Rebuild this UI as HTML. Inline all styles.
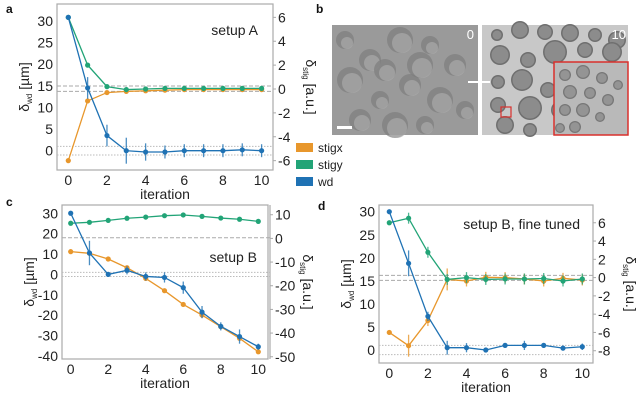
<!DOCTYPE html>
<html><head><meta charset="utf-8"><style>
body{margin:0;background:#fff;}
svg{display:block;font-family:"Liberation Sans",sans-serif;}
</style></head><body>
<svg id="fig" width="640" height="407" viewBox="0 0 640 407" xmlns="http://www.w3.org/2000/svg">
<g id="imgs"></g>
</svg>
<script>
// ---------- data ----------
const iterations=[0,1,2,3,4,5,6,7,8,9,10];
// panel a
const aWd=[30.8,14.5,3.5,0,-0.3,-0.3,0,0,0,0.2,0];
const aWdErr=[0,2.5,2.5,3,2,1.5,1.5,1.5,1.5,1.5,1.5];
const aStigx=[-6,-1,-0.3,-0.2,-0.15,-0.1,-0.05,-0.05,-0.05,-0.05,-0.05];
const aStigy=[6,2,0.2,-0.05,0,0.05,0.05,0.05,0.05,0.05,0.05];
// panel c
const cWd=[30,10.5,0,2,-1,-1.5,-6.5,-18.5,-25.5,-30.5,-35.5];
const cWdErr=[0,6,0,2,2,2.5,3,3,2,3.5,1.5];
const cStigx=[-5.6,-6.3,-8.7,-12.4,-16.9,-22.1,-27.9,-32.4,-37.3,-42.2,-47.9];
const cStigy=[6.4,6.8,7.6,8.5,9,9.6,9.9,9.3,8.6,8.1,7.2];
// panel d
const dWd=[30,18.8,7.3,0.5,0.5,0,1,1,1,0.4,0.7];
const dWdErr=[0,2.8,1,1.5,1,0.5,0.5,1,0.5,0.5,0.7];
const dStigx=[-6,-7.45,-4.7,-0.2,-0.37,0.03,0,-0.15,-0.37,-0.08,-0.26];
const dStigxErr=[0,1.2,0.6,1.2,0.6,0.6,0.6,0.6,0.6,0.6,0.6];
const dStigy=[6,6.5,2.77,-0.2,0,-0.2,-0.15,-0.15,-0.1,-0.37,-0.15];
const dStigyErr=[0,0.6,0.6,0.6,0.6,0.6,0.6,0.6,0.6,0.6,0.6];
const xTicks=[0,2,4,6,8,10];
const aLeftTicks=[0,5,10,15,20,25,30], aRightTicks=[-6,-4,-2,0,2,4,6];
const cLeftTicks=[-40,-30,-20,-10,0,10,20,30], cRightTicks=[-50,-40,-30,-20,-10,0,10];
const dLeftTicks=[0,5,10,15,20,25,30], dRightTicks=[-8,-6,-4,-2,0,2,4,6];

const OR='#e8972c',GR='#22a477',BL='#1f72b4';
const svg=document.getElementById('fig');
const NS='http://www.w3.org/2000/svg';
function el(tag,attrs,parent){const e=document.createElementNS(NS,tag);for(const k in attrs)e.setAttribute(k,attrs[k]);(parent||svg).appendChild(e);return e;}
function txt(s,attrs,parent){const e=el('text',attrs,parent);e.textContent=s;return e;}

function panel(id,g,L,R,series,lines,label){
  const grp=el('g',{});
  
  
  const X=v=>g.x0+v*g.xs, YL=v=>g.l0-v*g.ls, YR=v=>g.r0-v*g.rs;
  const fr=el('rect',{x:g.x1,y:g.y1,width:g.x2-g.x1,height:g.y2-g.y1,fill:'none',stroke:'#aaa','stroke-width':1.2},grp);
  
  
  if(g.rx){const ra=el('line',{x1:g.rx,x2:g.rx,y1:g.y1,y2:g.y2,stroke:'#aaa','stroke-width':1.2},grp);
    
    }
  const rx=g.rx||g.x2;
  lines.forEach(l=>{const y=l.axis==='L'?YL(l.v):YR(l.v);
    const ln=el('line',{x1:g.x1,x2:rx,y1:y,y2:y,stroke:l.dash?'#aaa':'#bbb','stroke-width':1,'stroke-dasharray':l.dash?'4,2':'1.5,1.5'},grp);
    
    });
  xTicks.forEach(t=>{const e=txt(String(t),{x:X(t),y:g.y2+15,'font-size':14,'text-anchor':'middle',fill:'#222'},grp);
    
    });
  L.forEach(t=>{const e=txt(String(t),{x:g.x1-4,y:YL(t)+5,'font-size':14,'text-anchor':'end',fill:'#222'},grp);
    
    });
  R.forEach(t=>{el('line',{x1:rx,x2:rx+3,y1:YR(t),y2:YR(t),stroke:'#aaa'},grp);
    const e=txt(String(t),{x:rx+5,y:YR(t)+5,'font-size':14,fill:'#222'},grp);
    
    });
  const xt=txt('iteration',{x:(g.x1+g.x2)/2,y:g.y2+29,'font-size':14,'text-anchor':'middle',fill:'#222'},grp);
  
  
  const yl=txt('',{transform:`translate(${g.x1-28},${(g.y1+g.y2)/2}) rotate(-90)`,'font-size':14,'text-anchor':'middle',fill:'#222'},grp);
  yl.innerHTML='δ<tspan font-size="8" dy="3">wd</tspan><tspan dy="-3"> [µm]</tspan>';
  
  
  const yr=txt('',{transform:`translate(${rx+33},${(g.y1+g.y2)/2}) rotate(90)`,'font-size':14,'text-anchor':'middle',fill:'#222'},grp);
  yr.innerHTML='δ<tspan font-size="8" dy="3">stig</tspan><tspan dy="-3"> [a.u.]</tspan>';
  
  
  series.forEach(s=>{const Y=s.axis==='L'?YL:YR;
    const sg=el('g',{},grp);
    
    
    el('polyline',{points:s.v.map((v,i)=>X(iterations[i])+','+Y(v)).join(' '),fill:'none',stroke:s.c,'stroke-width':1.3},sg);
    s.v.forEach((v,i)=>{const e=s.e?s.e[i]:0;
      if(e>0){const eb=el('line',{x1:X(iterations[i]),x2:X(iterations[i]),y1:Y(v-e),y2:Y(v+e),stroke:s.c,'stroke-width':1.3,opacity:0.8},sg);
        
        }
      const p=el('circle',{cx:X(iterations[i]),cy:Y(v),r:2.6,fill:s.c},sg);
      
      });
  });
  const lb=txt(label.t,{x:label.x,y:label.y,'font-size':14,fill:'#222','text-anchor':'end'},grp);
  
  
}

panel('panel-a',{x1:57,x2:273,y1:4,y2:170,x0:68.3,xs:19.33,l0:150.7,ls:4.33,r0:89,rs:11.94},
  aLeftTicks,aRightTicks,
  [{name:'stigx',v:aStigx,axis:'R',c:OR},{name:'stigy',v:aStigy,axis:'R',c:GR},{name:'wd',v:aWd,e:aWdErr,axis:'L',c:BL}],
  [{axis:'R',v:0.25,dash:1},{axis:'R',v:-0.2,dash:1},{axis:'L',v:1},{axis:'L',v:-1}],
  {t:'setup A',x:258,y:35});
panel('panel-c',{x1:62,x2:268,y1:205,y2:359,rx:270,x0:70.7,xs:18.76,l0:274.4,ls:2.038,r0:238.4,rs:2.367},
  cLeftTicks,cRightTicks,
  [{name:'stigy',v:cStigy,axis:'R',c:GR},{name:'stigx',v:cStigx,axis:'R',c:OR},{name:'wd',v:cWd,e:cWdErr,axis:'L',c:BL}],
  [{axis:'R',v:0.3,dash:1},{axis:'L',v:1},{axis:'L',v:-1}],
  {t:'setup B',x:257,y:262});
panel('panel-d',{x1:379,x2:593,y1:205,y2:363,x0:389.3,xs:19.3,l0:350,ls:4.61,r0:277.6,rs:9.14},
  dLeftTicks,dRightTicks,
  [{name:'stigx',v:dStigx,e:dStigxErr,axis:'R',c:OR},{name:'stigy',v:dStigy,e:dStigyErr,axis:'R',c:GR},{name:'wd',v:dWd,e:dWdErr,axis:'L',c:BL}],
  [{axis:'R',v:0.25,dash:1},{axis:'R',v:-0.3,dash:1},{axis:'L',v:1},{axis:'L',v:-1}],
  {t:'setup B, fine tuned',x:580,y:229});

// legend
[['stigx',OR,143],['stigy',GR,160],['wd',BL,177]].forEach(([n,c,y])=>{
  const r=el('rect',{x:296,y:y,width:17,height:9,fill:c});
  
  
  const t=txt(n,{x:318,y:y+9,'font-size':12,fill:'#222'});
  
  
});
// panel letters
[['a',6,13],['b',316,13],['c',6,206],['d',318,210]].forEach(([l,x,y])=>{
  const t=txt(l,{x:x,y:y,'font-size':12,'font-weight':'bold',fill:'#111'});
  
  
});

// panel b micrographs (decorative)
const ig=document.getElementById('imgs');
el('rect',{x:332,y:25,width:146,height:110,fill:'#9a9a9a'},ig);
const blur=[[345,40],[370,60],[400,40],[430,45],[455,65],[350,80],[380,100],[410,85],[440,100],[465,110],[360,120],[395,125],[425,125],[385,70],[420,65]];
blur.forEach(([x,y],i)=>{el('circle',{cx:x,cy:y,r:9+(i%3)*2,fill:'#7e7e7e',opacity:0.7},ig);el('circle',{cx:x+2,cy:y+3,r:6+(i%3)*2,fill:'#b0b0b0',opacity:0.6},ig);});
const t0=txt('0',{x:474,y:39,'font-size':13,fill:'#fff','text-anchor':'end'},ig);
el('rect',{x:337,y:126,width:15,height:3,fill:'#fff'},ig);
el('rect',{x:482,y:25,width:146,height:110,fill:'#c8c8c8'},ig);
const drops=[[497,35,6],[520,30,9],[545,32,8],[570,33,9],[595,35,7],[617,40,9],[500,55,10],[528,60,8],[555,52,12],[585,50,8],[612,52,10],[498,82,7],[522,80,11],[548,90,8],[575,77,12],[600,70,6],[498,105,8],[530,108,12],[560,110,9],[505,125,9],[530,130,7],[560,128,6]];
drops.forEach(([x,y,r])=>{el('circle',{cx:x,cy:y,r:r,fill:'#6f6f6f'},ig);el('circle',{cx:x,cy:y,r:r-1.5,fill:'#8c8c8c'},ig);});
el('rect',{x:554,y:62,width:74,height:73,fill:'#b9b9b9',stroke:'#d9302c','stroke-width':1.5},ig);
const ins=[[565,75,6],[583,72,7],[602,78,6],[618,85,5],[570,92,7],[590,93,6],[608,100,6],[565,110,6],[583,110,7],[600,117,5],[575,127,6],[560,128,5]];
ins.forEach(([x,y,r])=>{el('circle',{cx:x,cy:y,r:r,fill:'#777'},ig);el('circle',{cx:x,cy:y,r:r-1.3,fill:'#949494'},ig);});
el('rect',{x:501,y:107,width:10,height:10,fill:'none',stroke:'#d9302c','stroke-width':1.2},ig);
el('line',{x1:468,y1:82,x2:490,y2:82,stroke:'#fff','stroke-width':2},ig);
const t10=txt('10',{x:626,y:39,'font-size':13,fill:'#fff','text-anchor':'end'},ig);
</script>
</body></html>
